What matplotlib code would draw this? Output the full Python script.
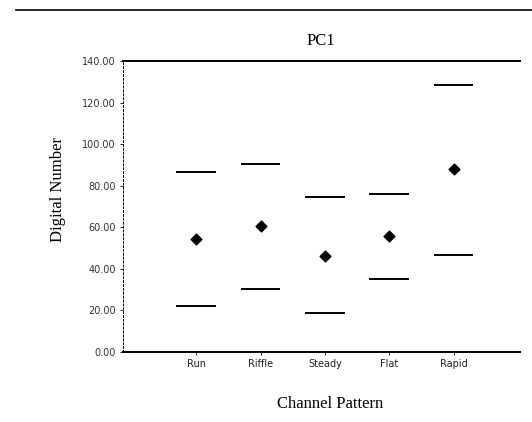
import matplotlib
matplotlib.use("Agg")
import matplotlib.pyplot as plt
from matplotlib.lines import Line2D

# PC1 summary per channel pattern: mean and upper/lower bounds
patterns = ["Run", "Riffle", "Steady", "Flat", "Rapid"]
means = [54.3, 60.7, 46.3, 55.8, 88.0]
upper = [86.7, 90.7, 74.7, 76.0, 128.4]
lower = [22.3, 30.1, 18.6, 35.1, 46.9]

fig = plt.figure(figsize=(5.32, 4.22), dpi=100)
ax = fig.add_axes([0.231, 0.166, 0.746, 0.689])

x = list(range(len(patterns)))
half = 0.31
ax.hlines(upper, [i - half for i in x], [i + half for i in x], color="black", lw=1.4)
ax.hlines(lower, [i - half for i in x], [i + half for i in x], color="black", lw=1.4)
ax.scatter(x, means, marker="D", s=30, color="black", zorder=3)

ax.set_xlim(-1.14, 5.03)
ax.set_ylim(0, 140)
ax.set_yticks(range(0, 141, 20))
ax.set_yticklabels([f"{v:.2f}" for v in range(0, 141, 20)], fontsize=7,
                   family="DejaVu Sans", color="#333333")
ax.set_xticks(x)
ax.set_xticklabels(patterns, fontsize=7, family="DejaVu Sans", color="#222222")
ax.tick_params(axis="y", length=2, width=0.6, pad=3)
ax.tick_params(axis="x", length=2, width=0.6, pad=3)

ax.spines["right"].set_visible(False)
ax.spines["top"].set_linewidth(1.4)
ax.spines["bottom"].set_linewidth(1.4)
ax.spines["left"].set_linewidth(0.7)
ax.spines["left"].set_linestyle((0, (2, 2)))

ax.set_title("PC1", fontsize=12, family="Liberation Serif", pad=12)
ax.set_ylabel("Digital Number", fontsize=12, family="Liberation Serif")
ax.set_xlabel("Channel Pattern", fontsize=12, family="Liberation Serif")
ax.yaxis.set_label_coords(-0.144, 0.557)
ax.xaxis.set_label_coords(0.521, -0.151)

# page rule across the top
fig.add_artist(Line2D([0.03, 1.0], [0.976, 0.976], transform=fig.transFigure,
                      color="black", lw=1.2))

fig.savefig("out.png", dpi=100)
